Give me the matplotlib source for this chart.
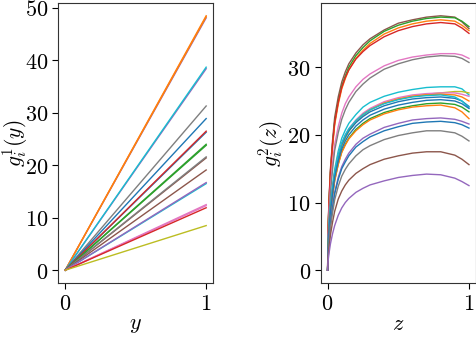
import matplotlib
matplotlib.use("Agg")
import matplotlib.pyplot as plt
from matplotlib.ticker import FuncFormatter

plt.rcParams['mathtext.fontset'] = 'cm'
plt.rcParams['font.family'] = 'serif'
plt.rcParams['font.serif'] = ['DejaVu Serif']

# left panel: straight lines g_i^1(y), value at y = 1
y_pts = [0, 1]
g1_end = [48.1, 48.3, 48.5, 38.4, 38.7, 31.3, 28.9, 26.3, 26.5, 23.8, 24.0,
          21.4, 21.6, 19.1, 16.5, 16.7, 12.3, 12.5, 11.9, 8.5]
g1_colors = ['tab:purple', 'tab:orange', 'tab:orange', 'tab:purple', 'tab:cyan',
             'tab:gray', 'tab:blue', 'tab:blue', 'tab:red', 'tab:green', 'tab:green',
             'tab:brown', 'tab:gray', 'tab:brown', 'tab:cyan', 'tab:purple',
             'tab:pink', 'tab:pink', 'tab:red', 'tab:olive']

# right panel: curves g_i^2(z)
z_pts = [0, 0.003, 0.01, 0.02, 0.035, 0.05, 0.075, 0.1, 0.125, 0.15, 0.2, 0.25,
         0.3, 0.4, 0.5, 0.6, 0.7, 0.8, 0.9, 0.95, 1.0]
g2_curves = [
    [0, 6.0, 10.5, 15.0, 19.2, 22.6, 25.6, 27.8, 29.3, 30.5, 32.1, 33.3, 34.2, 35.5, 36.5, 37.0, 37.4, 37.6, 37.4, 36.7, 35.7],
    [0, 5.6, 10.0, 14.4, 18.6, 21.9, 24.9, 27.2, 28.7, 30.0, 31.7, 32.9, 33.9, 35.3, 36.2, 36.8, 37.2, 37.4, 37.3, 36.8, 36.0],
    [0, 5.4, 9.8, 14.1, 18.2, 21.5, 24.5, 26.8, 28.3, 29.6, 31.3, 32.5, 33.5, 34.9, 35.8, 36.4, 36.8, 37.0, 36.8, 36.2, 35.4],
    [0, 5.9, 10.3, 14.6, 18.7, 21.8, 24.8, 27.0, 28.5, 29.6, 31.2, 32.3, 33.2, 34.5, 35.4, 36.0, 36.4, 36.6, 36.4, 35.8, 35.0],
    [0, 4.8, 8.6, 12.2, 15.8, 18.6, 21.2, 23.2, 24.6, 25.6, 27.1, 28.2, 29.0, 30.2, 31.0, 31.5, 31.8, 32.0, 32.0, 31.8, 31.3],
    [0, 4.2, 7.8, 11.4, 14.9, 17.7, 20.3, 22.3, 23.7, 24.8, 26.4, 27.5, 28.4, 29.7, 30.5, 31.1, 31.5, 31.7, 31.6, 31.3, 30.7],
    [0, 3.6, 6.6, 9.5, 12.5, 14.9, 17.6, 19.5, 20.7, 21.7, 23.0, 24.1, 24.8, 25.7, 26.3, 26.7, 27.0, 27.1, 27.1, 26.8, 25.9],
    [0, 3.2, 6.0, 8.8, 11.6, 14.0, 16.5, 18.3, 19.5, 20.5, 21.9, 22.9, 23.7, 24.7, 25.3, 25.7, 26.0, 26.2, 26.4, 26.4, 26.2],
    [0, 3.4, 6.3, 9.2, 12.0, 14.4, 17.0, 18.8, 20.0, 20.9, 22.2, 23.2, 23.9, 24.9, 25.5, 25.9, 26.1, 26.2, 26.2, 26.0, 25.7],
    [0, 3.3, 6.2, 9.0, 11.8, 14.2, 16.8, 18.6, 19.8, 20.7, 22.0, 23.0, 23.7, 24.7, 25.3, 25.7, 25.9, 26.0, 25.9, 25.6, 25.0],
    [0, 3.5, 6.4, 9.2, 12.0, 14.3, 16.8, 18.6, 19.7, 20.6, 21.8, 22.7, 23.4, 24.3, 24.9, 25.3, 25.5, 25.6, 25.4, 25.0, 24.2],
    [0, 3.6, 6.5, 9.3, 12.1, 14.5, 17.0, 18.8, 20.0, 20.9, 22.1, 23.0, 23.7, 24.6, 25.2, 25.6, 25.8, 25.9, 25.6, 25.0, 24.0],
    [0, 3.1, 5.7, 8.4, 11.0, 13.3, 15.7, 17.5, 18.6, 19.5, 20.8, 21.7, 22.4, 23.3, 23.9, 24.3, 24.6, 24.7, 24.5, 24.1, 23.4],
    [0, 3.1, 5.7, 8.4, 11.0, 13.2, 15.6, 17.4, 18.5, 19.4, 20.6, 21.5, 22.2, 23.1, 23.7, 24.1, 24.3, 24.4, 24.0, 23.4, 22.4],
    [0, 3.2, 5.9, 8.6, 11.3, 13.7, 16.1, 17.9, 19.1, 20.0, 21.3, 22.2, 22.9, 23.8, 24.4, 24.8, 25.1, 25.2, 25.0, 24.6, 23.9],
    [0, 2.4, 4.6, 7.0, 9.4, 11.5, 13.7, 15.3, 16.4, 17.3, 18.6, 19.5, 20.1, 21.1, 21.7, 22.2, 22.4, 22.5, 22.3, 22.0, 21.6],
    [0, 2.4, 4.5, 6.9, 9.2, 11.3, 13.4, 15.0, 16.0, 16.9, 18.2, 19.0, 19.7, 20.6, 21.2, 21.7, 21.9, 22.0, 21.8, 21.5, 21.0],
    [0, 2.1, 4.0, 6.3, 8.5, 10.4, 12.4, 13.9, 14.9, 15.7, 16.9, 17.8, 18.4, 19.3, 19.9, 20.3, 20.6, 20.6, 20.3, 19.8, 19.1],
    [0, 1.7, 3.3, 5.2, 7.1, 8.7, 10.5, 11.7, 12.6, 13.3, 14.3, 15.0, 15.6, 16.4, 16.9, 17.3, 17.5, 17.5, 17.0, 16.4, 15.6],
    [0, 1.3, 2.5, 3.9, 5.4, 6.6, 8.1, 9.2, 10.0, 10.6, 11.5, 12.1, 12.6, 13.2, 13.7, 14.0, 14.2, 14.1, 13.6, 13.1, 12.5],
]
g2_colors = ['tab:brown', 'tab:green', 'tab:orange', 'tab:red', 'tab:pink', 'tab:gray',
             'tab:cyan', 'tab:olive', 'tab:pink', 'tab:orange', 'tab:blue', 'tab:cyan',
             'tab:green', 'tab:orange', 'tab:blue', 'tab:purple', 'tab:blue', 'tab:gray',
             'tab:brown', 'tab:purple']

fig = plt.figure(figsize=(4.77, 3.38), dpi=100)
ax1 = fig.add_axes([0.122, 0.163, 0.325, 0.828])
ax2 = fig.add_axes([0.672, 0.163, 0.326, 0.828])

for end, c in zip(g1_end, g1_colors):
    ax1.plot(y_pts, [0, end], color=c, lw=1.0)

for vals, c in zip(g2_curves, g2_colors):
    ax2.plot(z_pts, vals, color=c, lw=1.0)

fmt = FuncFormatter(lambda v, p: f'${v:g}$')
ax1.set_xticks([0, 1])
ax1.set_yticks([0, 10, 20, 30, 40, 50])
ax2.set_xticks([0, 1])
ax2.set_yticks([0, 10, 20, 30])

for ax in (ax1, ax2):
    ax.xaxis.set_major_formatter(fmt)
    ax.yaxis.set_major_formatter(fmt)
    ax.tick_params(labelsize=16, length=4, width=0.8, direction='out', pad=3)
    for s in ax.spines.values():
        s.set_linewidth(0.8)
        s.set_color('#333333')

ax1.set_xlabel('$y$', fontsize=16)
ax1.set_ylabel('$g_i^1(y)$', fontsize=15.5)
ax2.set_xlabel('$z$', fontsize=16)
ax2.set_ylabel('$g_i^2(z)$', fontsize=15.5)
ax1.xaxis.set_label_coords(0.5, -0.108)
ax2.xaxis.set_label_coords(0.5, -0.108)
ax1.yaxis.set_label_coords(-0.185, 0.5)
ax2.yaxis.set_label_coords(-0.225, 0.5)

fig.savefig('out.png', dpi=100)
